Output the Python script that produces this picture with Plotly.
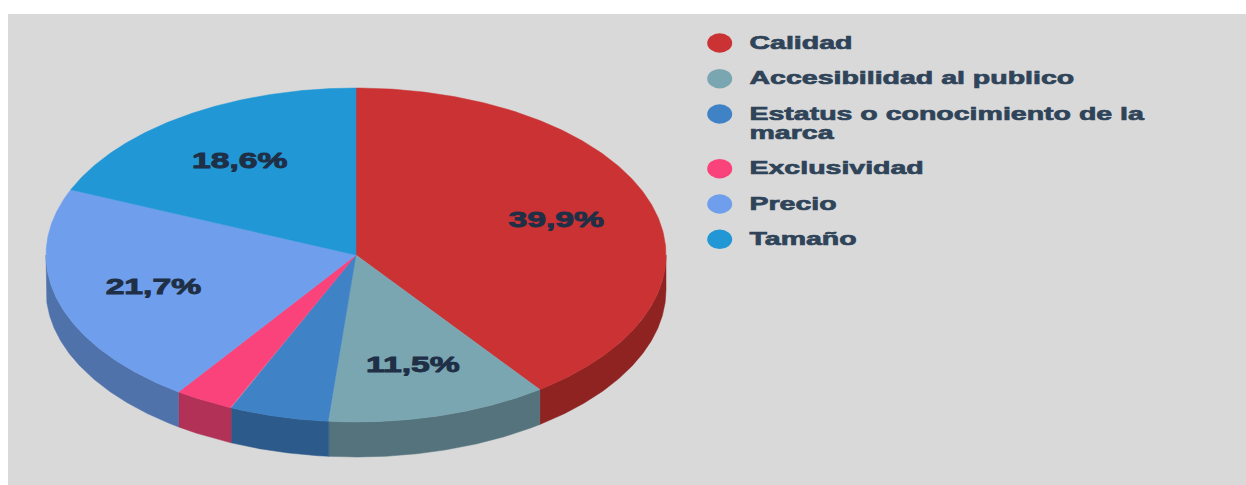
import numpy as np
import plotly.graph_objects as go

# Survey shares
categories = ["Calidad", "Accesibilidad al publico", "Estatus o conocimiento de la marca",
              "Exclusividad", "Precio", "Tamaño"]
values = [39.9, 11.5, 5.2, 3.1, 21.7, 18.6]
value_labels = ["39,9%", "11,5%", "", "", "21,7%", "18,6%"]
top_colors = ["#cb3234", "#7aa6b2", "#3f82c6", "#f9437a", "#6f9fec", "#2197d6"]
side_colors = ["#8e2322", "#54737c", "#2c5b8b", "#b23157", "#4f72aa", "#1a6f9f"]

# Legend rows: the long category wraps onto a second line
legend_rows = [["Calidad"], ["Accesibilidad al publico"],
               ["Estatus o conocimiento de la", "marca"],
               ["Exclusividad"], ["Precio"], ["Tamaño"]]
legend_y = [43, 78.7, 114, 168.7, 204, 239.3]
legend_line_gap = 19

# Pie geometry in page pixels
CX, CY, RX, RY, DEPTH = 356, 255, 310, 167, 35
LABEL_RADIUS = 0.68
LABEL_DROP, LEGEND_TEXT_DROP = 1.8, 1.0
LEGEND_MARK_X, LEGEND_TEXT_X = 719.7, 749.5
FONT = "Liberation Sans"
LABEL_SIZE, LEGEND_SIZE = 22, 19
# Horizontal widening and extra stroke of the lettering, keyed by font size
TEXT_WIDEN = {LABEL_SIZE: 1.53, LEGEND_SIZE: 1.5}
TEXT_STROKE = {LABEL_SIZE: 0.9, LEGEND_SIZE: 0.7}


def ellipse_point(t):
    # t runs clockwise from twelve o'clock, in radians
    return CX + RX * np.sin(t), CY - RY * np.cos(t)


fig = go.Figure()
total = sum(values)
edges = np.cumsum([0] + values) / total * 2 * np.pi

# Side wall: only the front half of the rim is visible
for i, color in enumerate(side_colors):
    a, b = max(edges[i], np.pi / 2), min(edges[i + 1], 3 * np.pi / 2)
    if b <= a:
        continue
    t = np.linspace(a, b, 120)
    x, y = ellipse_point(t)
    fig.add_trace(go.Scatter(
        x=np.concatenate([x, x[::-1], x[:1]]),
        y=np.concatenate([y, y[::-1] + DEPTH, y[:1]]),
        mode="lines", fill="toself", fillcolor=color,
        line=dict(color=color, width=0.5), hoverinfo="skip", showlegend=False))

# Top face
for i, color in enumerate(top_colors):
    t = np.linspace(edges[i], edges[i + 1], 240)
    x, y = ellipse_point(t)
    fig.add_trace(go.Scatter(
        x=np.concatenate([[CX], x, [CX]]),
        y=np.concatenate([[CY], y, [CY]]),
        mode="lines", fill="toself", fillcolor=color,
        line=dict(color=color, width=0.5), hoverinfo="skip", showlegend=False))

# Value labels at each slice's mid angle
mids = (edges[:-1] + edges[1:]) / 2
lx = CX + LABEL_RADIUS * RX * np.sin(mids)
ly = CY - LABEL_RADIUS * RY * np.cos(mids) + LABEL_DROP
fig.add_trace(go.Scatter(
    x=lx, y=ly, mode="text", text=value_labels, textposition="middle center",
    textfont=dict(family=FONT, size=LABEL_SIZE, color="#1f2f46", weight=700),
    hoverinfo="skip", showlegend=False))

# Legend text
text_x, text_y, text_s = [], [], []
for rows, y0 in zip(legend_rows, legend_y):
    for j, row in enumerate(rows):
        text_x.append(LEGEND_TEXT_X)
        text_y.append(y0 + LEGEND_TEXT_DROP + j * legend_line_gap)
        text_s.append(row)
fig.add_trace(go.Scatter(
    x=text_x, y=text_y, mode="text", text=text_s, textposition="middle right",
    textfont=dict(family=FONT, size=LEGEND_SIZE, color="#2f4459", weight=700),
    hoverinfo="skip", showlegend=False))

# Legend swatches
shapes = [dict(type="circle", xref="x", yref="y",
               x0=LEGEND_MARK_X - 12.5, x1=LEGEND_MARK_X + 12.5,
               y0=y0 - 9.7, y1=y0 + 9.7, fillcolor=c, line=dict(width=0))
          for y0, c in zip(legend_y, top_colors)]

fig.update_layout(
    width=1246, height=485, autosize=False,
    margin=dict(l=0, r=0, t=0, b=0),
    paper_bgcolor="#ffffff", plot_bgcolor="#d9d9d9",
    shapes=shapes,
    xaxis=dict(domain=[8 / 1246, 1], range=[8, 1246], visible=False),
    yaxis=dict(domain=[0, 1 - 14 / 485], range=[485, 14], visible=False),
)

# Widen and thicken the text glyphs after plotly has laid them out
style_js = """
var widen = %s, stroke = %s;
document.querySelectorAll('.textpoint text').forEach(function (el) {
  var cs = getComputedStyle(el), size = parseInt(cs.fontSize);
  if (widen[size] && el.textContent) {
    el.setAttribute('lengthAdjust', 'spacingAndGlyphs');
    el.setAttribute('textLength', el.getComputedTextLength() * widen[size]);
    el.style.stroke = cs.fill;
    el.style.strokeWidth = stroke[size] + 'px';
  }
});
""" % (str(TEXT_WIDEN), str(TEXT_STROKE))
fig.write_html("out.html", config=dict(displayModeBar=False), post_script=style_js)
